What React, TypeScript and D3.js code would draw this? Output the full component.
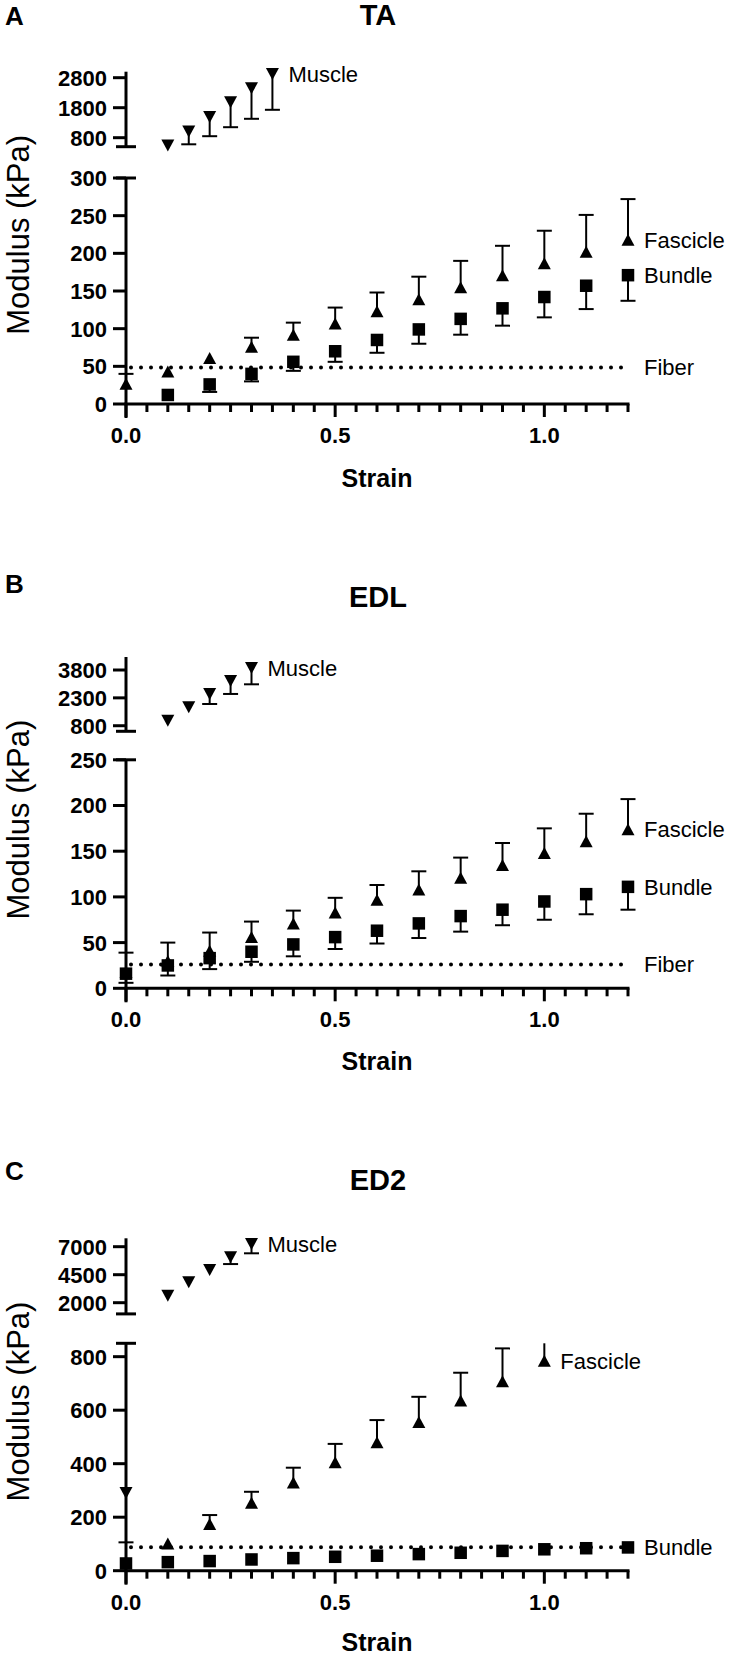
import React from 'react';
import * as d3 from 'd3';

const FONT = "'Liberation Sans', Arial, Helvetica, sans-serif";

// shared strain grid
const STRAIN = [0, 0.1, 0.2, 0.3, 0.4, 0.5, 0.6, 0.7, 0.8, 0.9, 1.0, 1.1, 1.2];
const X_DOMAIN = [0, 1.2];
const X_MAJOR = [0, 0.5, 1.0];
const X_MAJOR_LABELS = ['0.0', '0.5', '1.0'];

// ---------- Panel A : TA ----------
const TA_MUSCLE_STRAIN = [0.1, 0.15, 0.2, 0.25, 0.3, 0.35];
const TA_MUSCLE = [540, 1010, 1490, 1980, 2450, 2920];
const TA_MUSCLE_LOW = [null, 580, 850, 1150, 1430, 1730];
const TA_FASCICLE_STRAIN = STRAIN;
const TA_FASCICLE = [27, 43, 61, 76, 92, 107, 123, 139, 155, 171, 187, 202, 218];
const TA_FASCICLE_HIGH = [40, null, null, 88, 108, 128, 148, 169, 190, 210, 230, 251, 272];
const TA_BUNDLE_STRAIN = STRAIN.slice(1);
const TA_BUNDLE = [12, 26, 40, 56, 70, 85, 99, 113, 127, 142, 157, 171];
const TA_BUNDLE_LOW = [null, 16, 30, 44, 56, 68, 80, 92, 104, 115, 126, 137];
const TA_FIBER = 48.5;
const TA_UPPER_DOMAIN = [500, 3000];
const TA_UPPER_TICKS = [800, 1800, 2800];
const TA_LOWER_DOMAIN = [0, 300];
const TA_LOWER_TICKS = [0, 50, 100, 150, 200, 250, 300];

// ---------- Panel B : EDL ----------
const EDL_MUSCLE_STRAIN = [0.1, 0.15, 0.2, 0.25, 0.3];
const EDL_MUSCLE = [1070, 1790, 2510, 3210, 3910];
const EDL_MUSCLE_LOW = [null, null, 1970, 2510, 3030];
const EDL_FASCICLE_STRAIN = STRAIN;
const EDL_FASCICLE = [18, 30, 41, 56, 71, 83, 97, 108, 121, 135, 148, 161, 174];
const EDL_FASCICLE_HIGH = [39, 50, 61, 73, 85, 99, 113, 128, 143, 159, 175, 191, 207];
const EDL_BUNDLE_STRAIN = STRAIN;
const EDL_BUNDLE = [16, 25, 33, 40, 48, 56, 63, 71, 79, 86, 95, 103, 111];
const EDL_BUNDLE_LOW = [6, 14, 21, 29, 35, 43, 49, 55, 62, 69, 75, 81, 86];
const EDL_FIBER = 26;
const EDL_UPPER_DOMAIN = [500, 4500];
const EDL_UPPER_TICKS = [800, 2300, 3800];
const EDL_LOWER_DOMAIN = [0, 250];
const EDL_LOWER_TICKS = [0, 50, 100, 150, 200, 250];

// ---------- Panel C : ED2 ----------
const ED2_MUSCLE_STRAIN = [0, 0.1, 0.15, 0.2, 0.25, 0.3];
const ED2_MUSCLE = [290, 2620, 3820, 4920, 6050, 7240];
const ED2_MUSCLE_LOW = [106, null, null, null, 5450, 6410];
const ED2_FASCICLE_STRAIN = STRAIN.slice(1, 11);
const ED2_FASCICLE = [102, 175, 254, 330, 405, 480, 556, 636, 708, 785];
const ED2_FASCICLE_HIGH = [null, 208, 295, 385, 474, 563, 650, 740, 831, 900];
const ED2_BUNDLE_STRAIN = STRAIN;
const ED2_BUNDLE = [27, 32, 36, 42, 47, 52, 56, 62, 67, 74, 80, 84, 87];
const ED2_BUNDLE_LOW = [null, null, null, null, null, null, null, null, null, null, null, null, null];
const ED2_FIBER = 88;
const ED2_UPPER_DOMAIN = [1000, 7750];
const ED2_UPPER_TICKS = [2000, 4500, 7000];
const ED2_LOWER_DOMAIN = [0, 850];
const ED2_LOWER_TICKS = [0, 200, 400, 600, 800];

const PANELS = [
  {
    letter: 'A', title: 'TA', letterY: 25, titleY: 25, strainDy: 83,
    axisY: 404, lowerTop: 178, upperBottom: 146.7, upperTop: 71.7,
    upperDomain: TA_UPPER_DOMAIN, upperTicks: TA_UPPER_TICKS,
    lowerDomain: TA_LOWER_DOMAIN, lowerTicks: TA_LOWER_TICKS,
    muscle: { x: TA_MUSCLE_STRAIN, y: TA_MUSCLE, low: TA_MUSCLE_LOW },
    fascicle: { x: TA_FASCICLE_STRAIN, y: TA_FASCICLE, high: TA_FASCICLE_HIGH },
    bundle: { x: TA_BUNDLE_STRAIN, y: TA_BUNDLE, low: TA_BUNDLE_LOW },
    fiber: TA_FIBER, fiberLabel: true,
  },
  {
    letter: 'B', title: 'EDL', letterY: 593, titleY: 607, strainDy: 82,
    axisY: 988.3, lowerTop: 759.8, upperBottom: 731.3, upperTop: 657,
    upperDomain: EDL_UPPER_DOMAIN, upperTicks: EDL_UPPER_TICKS,
    lowerDomain: EDL_LOWER_DOMAIN, lowerTicks: EDL_LOWER_TICKS,
    muscle: { x: EDL_MUSCLE_STRAIN, y: EDL_MUSCLE, low: EDL_MUSCLE_LOW },
    fascicle: { x: EDL_FASCICLE_STRAIN, y: EDL_FASCICLE, high: EDL_FASCICLE_HIGH },
    bundle: { x: EDL_BUNDLE_STRAIN, y: EDL_BUNDLE, low: EDL_BUNDLE_LOW },
    fiber: EDL_FIBER, fiberLabel: true,
  },
  {
    letter: 'C', title: 'ED2', letterY: 1180, titleY: 1190, strainDy: 80,
    axisY: 1570.7, lowerTop: 1343.3, upperBottom: 1313.9, upperTop: 1238.3,
    upperDomain: ED2_UPPER_DOMAIN, upperTicks: ED2_UPPER_TICKS,
    lowerDomain: ED2_LOWER_DOMAIN, lowerTicks: ED2_LOWER_TICKS,
    muscle: { x: ED2_MUSCLE_STRAIN, y: ED2_MUSCLE, low: ED2_MUSCLE_LOW },
    fascicle: { x: ED2_FASCICLE_STRAIN, y: ED2_FASCICLE, high: ED2_FASCICLE_HIGH },
    bundle: { x: ED2_BUNDLE_STRAIN, y: ED2_BUNDLE, low: ED2_BUNDLE_LOW },
    fiber: ED2_FIBER, fiberLabel: false,
  },
];

const X_LEFT = 126;
const X_RIGHT = 628;
const MARK = 12.5;
const CAP = 15;

function triUp(cx: number, cy: number) {
  const w = 13, h = 12;
  return `M${cx - w / 2},${cy + h / 2}L${cx + w / 2},${cy + h / 2}L${cx},${cy - h / 2}Z`;
}
function triDown(cx: number, cy: number) {
  const w = 13, h = 12;
  return `M${cx - w / 2},${cy - h / 2}L${cx + w / 2},${cy - h / 2}L${cx},${cy + h / 2}Z`;
}

function Panel({ p }: { p: any }) {
  const x = d3.scaleLinear().domain(X_DOMAIN).range([X_LEFT, X_RIGHT]);
  const yLow = d3.scaleLinear().domain(p.lowerDomain).range([p.axisY, p.lowerTop]);
  const yUp = d3.scaleLinear().domain(p.upperDomain).range([p.upperBottom, p.upperTop]);
  const lowMax = p.lowerDomain[1];
  const yOf = (v: number) => (v <= lowMax ? yLow(v) : yUp(v));
  const minor = x.ticks(24);
  const tickFs = 22;
  const labFs = 22;

  const els: any[] = [];

  // fiber dotted line
  els.push(
    <line key="fiber" x1={x(0) + 5} x2={x(1.2)} y1={yLow(p.fiber)} y2={yLow(p.fiber)}
      stroke="#000" strokeWidth={4} strokeDasharray="0 10" strokeLinecap="round" />
  );

  // error bars
  const errs: any[] = [];
  p.fascicle.x.forEach((sx: number, i: number) => {
    const hi = p.fascicle.high[i];
    if (hi == null) return;
    const cx = x(sx);
    const clipped = hi > lowMax;
    const yh = yLow(Math.min(hi, lowMax));
    errs.push(<line key={`fe${i}`} x1={cx} x2={cx} y1={yLow(p.fascicle.y[i])} y2={yh} stroke="#000" strokeWidth={2} />);
    if (!clipped) errs.push(<line key={`fc${i}`} x1={cx - CAP / 2} x2={cx + CAP / 2} y1={yh} y2={yh} stroke="#000" strokeWidth={2} />);
  });
  p.bundle.x.forEach((sx: number, i: number) => {
    const lo = p.bundle.low[i];
    if (lo == null) return;
    const cx = x(sx);
    const yl = yLow(lo);
    errs.push(<line key={`be${i}`} x1={cx} x2={cx} y1={yLow(p.bundle.y[i])} y2={yl} stroke="#000" strokeWidth={2} />);
    errs.push(<line key={`bc${i}`} x1={cx - CAP / 2} x2={cx + CAP / 2} y1={yl} y2={yl} stroke="#000" strokeWidth={2} />);
  });
  p.muscle.x.forEach((sx: number, i: number) => {
    const lo = p.muscle.low[i];
    if (lo == null) return;
    const cx = x(sx);
    const v = p.muscle.y[i];
    const yl = yOf(lo);
    errs.push(<line key={`me${i}`} x1={cx} x2={cx} y1={yOf(v)} y2={yl} stroke="#000" strokeWidth={2} />);
    errs.push(<line key={`mc${i}`} x1={cx - CAP / 2} x2={cx + CAP / 2} y1={yl} y2={yl} stroke="#000" strokeWidth={2} />);
  });
  els.push(<g key="errs">{errs}</g>);

  // markers
  const marks: any[] = [];
  p.bundle.x.forEach((sx: number, i: number) => {
    marks.push(<rect key={`b${i}`} x={x(sx) - MARK / 2} y={yLow(p.bundle.y[i]) - MARK / 2} width={MARK} height={MARK} fill="#000" />);
  });
  p.fascicle.x.forEach((sx: number, i: number) => {
    marks.push(<path key={`f${i}`} d={triUp(x(sx), yLow(p.fascicle.y[i]))} fill="#000" />);
  });
  p.muscle.x.forEach((sx: number, i: number) => {
    marks.push(<path key={`m${i}`} d={triDown(x(sx), yOf(p.muscle.y[i]))} fill="#000" />);
  });
  els.push(<g key="marks">{marks}</g>);

  // series labels
  const lastM = p.muscle.x.length - 1;
  const lastF = p.fascicle.x.length - 1;
  const lastB = p.bundle.x.length - 1;
  const lab = (key: string, sx: number, yy: number, txt: string) => (
    <text key={key} x={x(sx) + 16} y={yy} dy="0.36em" fontFamily={FONT} fontSize={labFs} fill="#000">{txt}</text>
  );
  els.push(lab('lm', p.muscle.x[lastM], yOf(p.muscle.y[lastM]), 'Muscle'));
  els.push(lab('lf', p.fascicle.x[lastF], yLow(p.fascicle.y[lastF]), 'Fascicle'));
  els.push(lab('lb', p.bundle.x[lastB], yLow(p.bundle.y[lastB]), 'Bundle'));
  if (p.fiberLabel) els.push(lab('lfi', 1.2, yLow(p.fiber), 'Fiber'));

  // axes
  const ax: any[] = [];
  ax.push(<line key="xa" x1={X_LEFT - 1.5} x2={X_RIGHT + 1.5} y1={p.axisY} y2={p.axisY} stroke="#000" strokeWidth={3} />);
  minor.forEach((t: number, i: number) => {
    const major = X_MAJOR.some((m) => Math.abs(m - t) < 1e-6);
    ax.push(<line key={`xt${i}`} x1={x(t)} x2={x(t)} y1={p.axisY} y2={p.axisY + (major ? 13 : 8)} stroke="#000" strokeWidth={3} />);
  });
  X_MAJOR.forEach((t, i) => {
    ax.push(<text key={`xl${i}`} x={x(t)} y={p.axisY + 39} textAnchor="middle" fontFamily={FONT} fontWeight="bold" fontSize={tickFs}>{X_MAJOR_LABELS[i]}</text>);
  });
  ax.push(<text key="xtitle" x={(X_LEFT + X_RIGHT) / 2} y={p.axisY + p.strainDy} textAnchor="middle" fontFamily={FONT} fontWeight="bold" fontSize={25}>Strain</text>);

  // lower y axis
  ax.push(<line key="yl" x1={X_LEFT} x2={X_LEFT} y1={p.lowerTop} y2={p.axisY + 14} stroke="#000" strokeWidth={3} />);
  ax.push(<line key="ylcap" x1={X_LEFT - 10} x2={X_LEFT + 10} y1={p.lowerTop} y2={p.lowerTop} stroke="#000" strokeWidth={3} />);
  p.lowerTicks.forEach((t: number, i: number) => {
    ax.push(<line key={`ylt${i}`} x1={X_LEFT - 13} x2={X_LEFT} y1={yLow(t)} y2={yLow(t)} stroke="#000" strokeWidth={3} />);
    ax.push(<text key={`yll${i}`} x={X_LEFT - 19} y={yLow(t)} dy="0.36em" textAnchor="end" fontFamily={FONT} fontWeight="bold" fontSize={tickFs}>{t}</text>);
  });
  // upper y axis
  ax.push(<line key="yu" x1={X_LEFT} x2={X_LEFT} y1={p.upperTop} y2={p.upperBottom} stroke="#000" strokeWidth={3} />);
  ax.push(<line key="yucap" x1={X_LEFT - 10} x2={X_LEFT + 10} y1={p.upperBottom} y2={p.upperBottom} stroke="#000" strokeWidth={3} />);
  p.upperTicks.forEach((t: number, i: number) => {
    ax.push(<line key={`yut${i}`} x1={X_LEFT - 13} x2={X_LEFT} y1={yUp(t)} y2={yUp(t)} stroke="#000" strokeWidth={3} />);
    ax.push(<text key={`yul${i}`} x={X_LEFT - 19} y={yUp(t)} dy="0.36em" textAnchor="end" fontFamily={FONT} fontWeight="bold" fontSize={tickFs}>{t}</text>);
  });
  // y title
  const yc = (p.upperTop + p.axisY) / 2 - 3;
  ax.push(<text key="ytitle" transform={`translate(29,${yc}) rotate(-90)`} textAnchor="middle" fontFamily={FONT} fontSize={31}>Modulus (kPa)</text>);

  // panel letter and title
  ax.push(<text key="letter" x={5} y={p.letterY} fontFamily={FONT} fontWeight="bold" fontSize={26}>{p.letter}</text>);
  ax.push(<text key="title" x={378} y={p.titleY} textAnchor="middle" fontFamily={FONT} fontWeight="bold" fontSize={29}>{p.title}</text>);

  return <g>{els}{ax}</g>;
}

export default function App() {
  return (
    <svg width={731} height={1657} viewBox="0 0 731 1657" style={{ position: 'absolute', left: 0, top: 0, background: '#fff' }}>
      <rect width={731} height={1657} fill="#fff" />
      {PANELS.map((p) => <Panel key={p.letter} p={p} />)}
    </svg>
  );
}
